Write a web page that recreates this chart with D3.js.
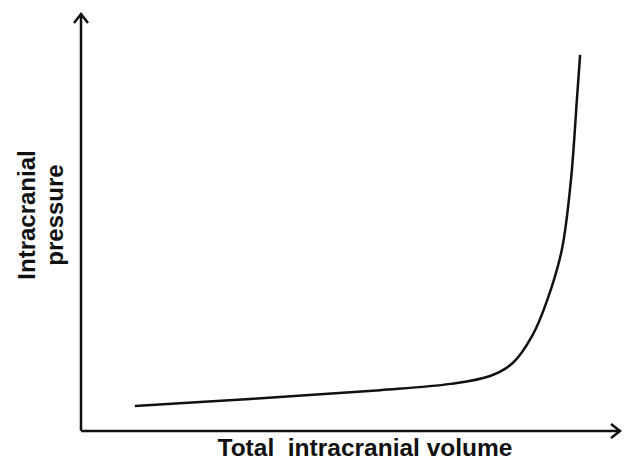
<!DOCTYPE html>
<html>
<head>
<meta charset="utf-8">
<script src="https://cdn.jsdelivr.net/npm/d3@7"></script>
<style>
  body { margin: 0; background: #fff; }
  text { font-family: "Liberation Sans", Arial, sans-serif; font-weight: bold; fill: #111; }
</style>
</head>
<body>
<div id="chart"></div>
<script>
// Curve (relative units 0-100)
var volume   = [10.0, 31.4, 55.5, 68.5, 75.9, 80.1, 83.7, 86.5, 89.2, 90.9, 92.0, 92.6];
var pressure = [6.0, 7.7, 9.8, 11.3, 13.2, 16.3, 22.8, 31.4, 43.4, 60.2, 79.4, 90.2];
var xLabel = "Total  intracranial volume";
var yLabel = ["Intracranial", "pressure"];

var width = 625;
var height = 461;
var margin = { top: 14, right: 5, bottom: 30, left: 81 };

var svg = d3.select("#chart")
            .append("svg")
            .attr("width", width)
            .attr("height", height);

var xScale = d3.scaleLinear()
               .domain([0, 100])
               .range([margin.left, width - margin.right]);

var yScale = d3.scaleLinear()
               .domain([0, 100])
               .range([height - margin.bottom, margin.top]);

var x0 = xScale(0), y0 = yScale(0);
var xEnd = xScale(100), yEnd = yScale(100);

// Axes with open arrow heads
svg.append("path")
   .attr("d", "M" + x0 + "," + y0 + "L" + x0 + "," + yEnd + "M" + (x0 - 7) + "," + (yEnd + 9) + "L" + x0 + "," + yEnd + "L" + (x0 + 7) + "," + (yEnd + 9))
   .attr("fill", "none")
   .attr("stroke", "#111")
   .attr("stroke-width", 2.5);

svg.append("path")
   .attr("d", "M" + x0 + "," + y0 + "L" + xEnd + "," + y0 + "M" + (xEnd - 9) + "," + (y0 - 7) + "L" + xEnd + "," + y0 + "L" + (xEnd - 9) + "," + (y0 + 7))
   .attr("fill", "none")
   .attr("stroke", "#111")
   .attr("stroke-width", 2.5);

// The curve
var data = volume.map(function(v, i) { return { v: v, p: pressure[i] }; });

var line = d3.line()
             .x(function(d) { return xScale(d.v); })
             .y(function(d) { return yScale(d.p); })
             .curve(d3.curveCatmullRom.alpha(0.5));

svg.append("path")
   .datum(data)
   .attr("d", line)
   .attr("fill", "none")
   .attr("stroke", "#111")
   .attr("stroke-width", 2.5);

// Axis titles
svg.append("text")
   .attr("x", 365)
   .attr("y", 456)
   .attr("text-anchor", "middle")
   .attr("font-size", 24.5)
   .style("white-space", "pre")
   .text(xLabel);

svg.append("g")
   .attr("transform", "translate(0,215) rotate(-90)")
   .selectAll("text")
   .data(yLabel)
   .enter()
   .append("text")
   .attr("x", 0)
   .attr("y", function(d, i) { return 35 + i * 28; })
   .attr("text-anchor", "middle")
   .attr("font-size", 24)
   .text(function(d) { return d; });
</script>
</body>
</html>
